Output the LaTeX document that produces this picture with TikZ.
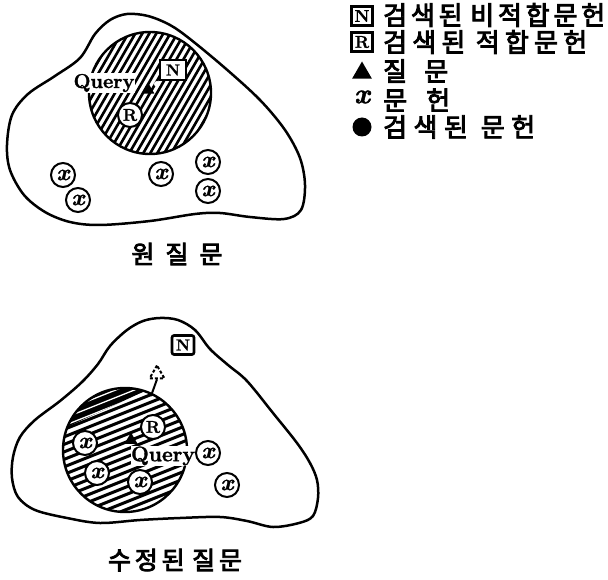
\documentclass[tikz,border=0pt]{standalone}
\usepackage{fontspec}
\newfontfamily\kr[FakeBold=3.5]{Noto Sans CJK KR}
\newfontfamily\qf[FakeBold=1.5]{Latin Modern Roman}
\usetikzlibrary{shapes.geometric}
\newcommand\spr[2]{\makebox[#1][s]{#2}}
\begin{document}
\begin{tikzpicture}[x=1pt,y=-1pt,
  outline/.style={line width=2.5pt, line join=round},
  hatch/.style={line width=2.6pt},
  doc/.style={circle, draw, line width=2pt, fill=white, minimum size=24pt, inner sep=0pt,
    font=\qf\fontsize{23}{23}\selectfont\bfseries\itshape},
  rdoc/.style={doc, font=\qf\fontsize{17}{17}\selectfont\bfseries},
  nbox/.style={draw, line width=2pt, fill=white, minimum width=26pt, minimum height=20pt, inner sep=0pt,
    font=\qf\fontsize{16}{16}\selectfont\bfseries},
  legbox/.style={draw, minimum width=21pt, minimum height=19pt, inner sep=0pt,
    font=\qf\fontsize{17}{17}\selectfont\bfseries},
  qtri/.style={regular polygon, regular polygon sides=3, fill=black, minimum size=15pt, inner sep=0pt},
  legtxt/.style={anchor=west, inner sep=0pt, font=\kr\fontsize{26}{28}\selectfont},
  captxt/.style={inner sep=0pt, font=\kr\fontsize{25}{28}\selectfont}
]
\useasboundingbox (0,0) rectangle (608,580);

% ---------- top figure ----------
\draw[outline] plot[smooth cycle, tension=0.55] coordinates {
 (127,14) (148,16) (170,25) (190,39) (225,68) (260,100) (285,130) (300,158) (305,185)
 (301,210) (284,219) (250,217) (220,213) (195,214) (150,221) (100,225) (70,222) (45,212)
 (24,195) (10,170) (7,145) (12,115) (28,94) (55,76) (80,58) (95,34) (110,20)};
\begin{scope}
  \clip (150,93) circle (61pt);
  \foreach \i in {-22,...,22}
    \draw[hatch] ({150+\i*7-45},{93+78}) -- ({150+\i*7+45},{93-78});
\end{scope}
\draw[line width=2.4pt] (150,93) circle (61pt);
\node[nbox] (n1) at (173,70) {N};
\node[rdoc] (r1) at (130,115) {R};
\node[qtri] (q1) at (148,90) {};
\fill[white] (157,84) circle (3pt);
\node[fill=white, inner sep=1pt, font=\qf\fontsize{20}{20}\selectfont\bfseries] (ql1) at (104,83) {Query};
\node[doc] (x1) at (63,175) {x};
\node[doc] (x2) at (78,200) {x};
\node[doc] (x3) at (161,174) {x};
\node[doc] (x4) at (208,162) {x};
\node[doc] (x5) at (208,191) {x};
\node[captxt] (c1) at (177,254) {\spr{91pt}{원\hfil 질\hfil 문}};

% ---------- legend ----------
\node[legbox, line width=3pt] (ln) at (362,16) {N};
\node[legtxt] (lnt) at (383,15) {\spr{222pt}{검\hfil 색\hfil 된\hfil\hfil 비\hfil 적\hfil 합\hfil 문\hfil 헌}};
\node[legbox, line width=2.2pt] (lr) at (362,42) {R};
\node[legtxt] (lrt) at (383,42) {\spr{204pt}{검\hfil 색\hfil 된\hfil\hfil 적\hfil 합\hfil 문\hfil 헌}};
\node[qtri, minimum size=23pt] (lq) at (362,73) {};
\node[legtxt] (lqt) at (383,71) {\spr{65pt}{질\hfil 문}};
\node[inner sep=0pt, font=\qf\fontsize{28}{28}\selectfont\bfseries\itshape] (lx) at (362,97) {x};
\node[legtxt] (lxt) at (383,100) {\spr{67pt}{문\hfil 헌}};
\node[circle, fill=black, minimum size=19pt, inner sep=0pt] (ld) at (362,127) {};
\node[legtxt] (ldt) at (383,127) {\spr{152pt}{검\hfil 색\hfil 된\hfil\hfil 문\hfil 헌}};

% ---------- bottom figure ----------
\draw[outline] plot[smooth cycle, tension=0.55] coordinates {
 (160,318) (178,320) (195,330) (210,349) (228,365) (247,381) (273,413) (297,443) (310,463)
 (317,480) (318,498) (313,516) (299,523) (273,527) (247,521) (220,517) (180,518) (140,520)
 (100,523) (67,518) (35,510) (18,497) (12,478) (13,457) (20,437) (35,420) (60,401)
 (82,382) (98,364) (110,346) (127,330) (143,321)};
\begin{scope}
  \clip (125,450) circle (62pt);
  \fill[black] (40,439.5) -- (200,365.5) -- (200,300) -- (40,300) -- cycle;
  \foreach \i in {-13,...,14}
    \draw[hatch, line width=3pt] (40,{450+\i*7.5+34}) -- (210,{450+\i*7.5-34});
  \begin{scope}
    \clip (40,439.5) -- (200,365.5) -- (200,300) -- (40,300) -- cycle;
    \foreach \i in {-13,...,3}
      \draw[white, line width=1.3pt] (40,{450+\i*7.5+3.75+34}) -- (210,{450+\i*7.5+3.75-34});
  \end{scope}
\end{scope}
\draw[line width=2.4pt] (125,450) circle (62pt);
\node[regular polygon, regular polygon sides=3, draw, dashed, dash pattern=on 3pt off 2pt,
  line width=2pt, minimum size=17pt, inner sep=0pt] (q0) at (157,374) {};
\coordinate (m0) at (151,396);
\draw[line width=2pt] (q0.south) -- (m0);
\node[nbox, rounded corners=2pt, minimum width=22pt, minimum height=19pt, line width=2.6pt] (n2) at (183,345) {N};
\node[rdoc] (r2) at (153,427) {R};
\node[qtri] (q2) at (131,440) {};
\node[fill=white, inner sep=0.5pt, font=\qf\fontsize{21}{21}\selectfont\bfseries] (ql2) at (163,456) {Query};
\node[doc] (y1) at (85,443) {x};
\node[doc] (y2) at (97,473) {x};
\node[doc] (y3) at (140,482) {x};
\node[doc] (y4) at (208,453) {x};
\node[doc] (y5) at (227,485) {x};
\node[captxt] (c2) at (175,560) {\spr{134pt}{수\hfil 정\hfil 된\hfil\hfil 질\hfil 문}};
\end{tikzpicture}
\end{document}
